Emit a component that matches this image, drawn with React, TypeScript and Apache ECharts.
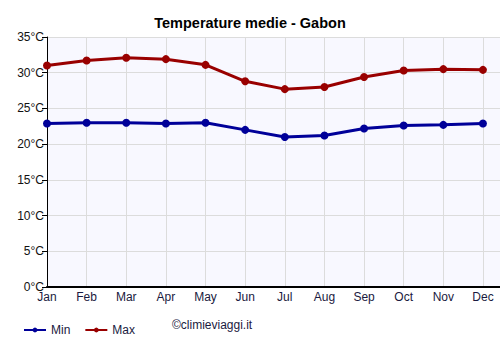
import React, { useEffect, useRef } from "react";
import * as echarts from "echarts";

const months = ["Jan", "Feb", "Mar", "Apr", "May", "Jun", "Jul", "Aug", "Sep", "Oct", "Nov", "Dec"];
const minTemps = [22.9, 23.0, 23.0, 22.9, 23.0, 22.0, 21.0, 21.2, 22.2, 22.6, 22.7, 22.9];
const maxTemps = [31.0, 31.7, 32.1, 31.9, 31.1, 28.8, 27.7, 28.0, 29.4, 30.3, 30.5, 30.4];
const yTicks = [0, 5, 10, 15, 20, 25, 30, 35];

const FONT = "'Liberation Sans', Arial, sans-serif";

export default function App() {
  const ref = useRef<HTMLDivElement>(null);
  useEffect(() => {
    if (!ref.current) return;
    const chart = echarts.init(ref.current, undefined, { renderer: "svg" });
    chart.setOption({
      animation: false,
      title: {
        text: "Temperature medie - Gabon",
        left: "center",
        top: 10,
        textStyle: { fontFamily: FONT, fontSize: 14.5, fontWeight: "bold", color: "#000" },
      },
      grid: {
        left: 47,
        right: 0,
        top: 37,
        bottom: 63,
        show: true,
        backgroundColor: "#f8f8ff",
        borderWidth: 0,
      },
      legend: {
        left: 18,
        top: 319,
        itemWidth: 22,
        itemHeight: 6,
        itemGap: 14,
        textStyle: { fontFamily: FONT, fontSize: 12, color: "#1a1a40" },
        data: ["Min", "Max"],
      },
      graphic: [
        {
          type: "text",
          left: 172,
          top: 319,
          style: { text: "©climieviaggi.it", font: `12px ${FONT}`, fill: "#1a1a40" },
        },
      ],
      xAxis: {
        type: "value",
        min: 0,
        max: 11.43,
        interval: 1,
        axisLine: { show: true, lineStyle: { color: "#000", width: 2 } },
        axisTick: { show: false },
        axisLabel: {
          fontFamily: FONT,
          fontSize: 12,
          color: "#1a1a40",
          margin: 4,
          showMaxLabel: false,
          formatter: (v: number) => (Number.isInteger(v) ? months[v] : ""),
        },
        splitLine: { show: true, lineStyle: { color: "#dcdcdc", width: 1 } },
      },
      yAxis: {
        type: "value",
        min: yTicks[0],
        max: yTicks[yTicks.length - 1],
        interval: 5,
        axisLine: { show: true, lineStyle: { color: "#000", width: 1 } },
        axisTick: { show: true, length: 5, lineStyle: { color: "#000" } },
        axisLabel: {
          fontFamily: FONT,
          fontSize: 12,
          color: "#111",
          margin: 3,
          formatter: (v: number) => `${v}°C`,
        },
        splitLine: { show: true, lineStyle: { color: "#dcdcdc", width: 1 } },
      },
      series: [
        {
          name: "Min",
          type: "line",
          data: minTemps.map((v, i) => [i, v]),
          symbol: "circle",
          symbolSize: 8,
          itemStyle: { color: "#000099" },
          lineStyle: { color: "#000099", width: 3 },
        },
        {
          name: "Max",
          type: "line",
          data: maxTemps.map((v, i) => [i, v]),
          symbol: "circle",
          symbolSize: 8,
          itemStyle: { color: "#990000" },
          lineStyle: { color: "#990000", width: 3 },
        },
      ],
    });
    return () => chart.dispose();
  }, []);
  return <div ref={ref} style={{ width: 500, height: 350, position: "absolute", left: 0, top: 0 }} />;
}
